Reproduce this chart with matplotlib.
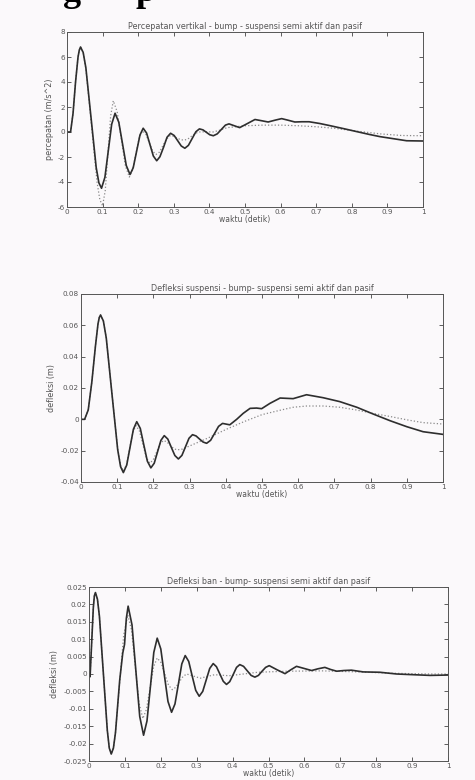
import matplotlib
matplotlib.use("Agg")
import matplotlib.pyplot as plt

# ---- data ----
# Percepatan vertikal (m/s^2): semi aktif (solid) dan pasif (dotted)
t_acc_semi = [0, 0.01, 0.017, 0.024, 0.031, 0.0345, 0.038, 0.0454, 0.053, 0.0675,
              0.082, 0.0896, 0.097,
              0.1065, 0.116, 0.1255, 0.135, 0.1455, 0.156, 0.1665, 0.177, 0.186,
              0.1955, 0.205, 0.214, 0.2235, 0.233, 0.2425, 0.252, 0.261, 0.2715,
              0.281, 0.291, 0.301, 0.311, 0.321, 0.331, 0.341, 0.3515, 0.362,
              0.372, 0.382, 0.3915, 0.401, 0.411, 0.422, 0.4335, 0.445, 0.455,
              0.47, 0.485, 0.505, 0.528, 0.547, 0.565, 0.585, 0.603, 0.62, 0.64,
              0.66, 0.68, 0.71, 0.74, 0.78, 0.814, 0.85, 0.879, 0.92, 0.954, 1.0]
acc_semi = [0, 0, 1.5, 4.0, 6.0, 6.55, 6.8, 6.37, 5.14, 1.15,
            -2.84, -4.07, -4.5,
            -3.62, -1.5, 0.62, 1.5, 0.78, -0.95, -2.68, -3.4, -2.86,
            -1.55, -0.24, 0.3, -0.08, -1.0, -1.92, -2.3, -1.98, -1.2,
            -0.42, -0.1, -0.28, -0.7, -1.12, -1.3, -1.07, -0.525, 0.02,
            0.25, 0.17, -0.025, -0.22, -0.3, -0.15, 0.2, 0.55, 0.65,
            0.5, 0.35, 0.65, 1.0, 0.9, 0.8, 0.95, 1.07, 0.95, 0.8,
            0.82, 0.82, 0.68, 0.5, 0.25, 0.03, -0.2, -0.37, -0.55, -0.7, -0.72]
t_acc_pas = [0, 0.01, 0.017, 0.024, 0.031, 0.0345, 0.038, 0.0458, 0.0535, 0.069,
             0.0845, 0.0923, 0.1,
             0.1075, 0.115, 0.1225, 0.13, 0.141, 0.1525, 0.164, 0.175, 0.184,
             0.1935, 0.203, 0.212, 0.2215, 0.231, 0.2405, 0.25, 0.26, 0.27,
             0.28, 0.29, 0.3, 0.31, 0.32, 0.33, 0.34, 0.35, 0.36, 0.37, 0.39,
             0.41, 0.43, 0.45, 0.5, 0.55, 0.6, 0.65, 0.7, 0.75, 0.82, 0.88, 0.94, 1.0]
acc_pas = [0, 0, 1.5, 4.0, 6.0, 6.55, 6.8, 6.32, 4.94, 0.45,
           -4.04, -5.42, -5.9,
           -4.67, -1.7, 1.27, 2.5, 1.61, -0.55, -2.71, -3.6, -3.06,
           -1.75, -0.44, 0.1, -0.18, -0.85, -1.52, -1.8, -1.6, -1.05,
           -0.55, -0.3, -0.35, -0.5, -0.62, -0.65, -0.55, -0.33, -0.12, 0.0, 0.02,
           0.0, 0.15, 0.35, 0.5, 0.55, 0.55, 0.5, 0.42, 0.3, 0.05, -0.15, -0.28, -0.3]

# Defleksi suspensi (m)
t_sus_semi = [0, 0.01, 0.02, 0.03, 0.04, 0.047, 0.0505, 0.054, 0.0618, 0.0698,
              0.0855, 0.1013, 0.1093,
              0.117, 0.1263, 0.1355, 0.1448, 0.154, 0.1638, 0.1735, 0.1833, 0.193,
              0.2023, 0.2115, 0.2208, 0.23, 0.2398, 0.2495, 0.2593, 0.269, 0.2788,
              0.2885, 0.2983, 0.308, 0.3178, 0.3275, 0.3373, 0.347, 0.358, 0.369,
              0.38, 0.391, 0.411, 0.43, 0.448, 0.467, 0.485, 0.499, 0.522, 0.55,
              0.586, 0.623, 0.669, 0.715, 0.762, 0.807, 0.854, 0.9, 0.945, 1.0]
sus_semi = [0, 0, 0.006, 0.024, 0.047, 0.061, 0.065, 0.0666, 0.0628, 0.0519,
            0.0163, -0.0193, -0.0302,
            -0.034, -0.0292, -0.0178, -0.0063, -0.0015, -0.0058, -0.0163, -0.0267, -0.031,
            -0.028, -0.0207, -0.0134, -0.0104, -0.0126, -0.0179, -0.0231, -0.0253, -0.023,
            -0.0176, -0.0121, -0.0098, -0.0106, -0.0126, -0.0145, -0.0153, -0.0134, -0.009,
            -0.0045, -0.0026, -0.0035, 0.0, 0.0038, 0.007, 0.0072, 0.0068, 0.0102, 0.0136,
            0.0132, 0.0157, 0.0138, 0.0113, 0.0077, 0.0034, -0.0009, -0.0047, -0.0079, -0.0096]
t_sus_pas = [0, 0.01, 0.02, 0.03, 0.04, 0.047, 0.0505, 0.054, 0.0618, 0.0698,
             0.0855, 0.1013, 0.1093,
             0.117, 0.1258, 0.1345, 0.1433, 0.152, 0.1615, 0.171, 0.1805, 0.19,
             0.1995, 0.209, 0.2185, 0.228, 0.237, 0.2465, 0.256, 0.265, 0.28,
             0.3, 0.35, 0.4, 0.45, 0.5, 0.55, 0.586, 0.623, 0.67, 0.715, 0.76,
             0.807, 0.854, 0.9, 0.945, 1.0]
sus_pas = [0, 0, 0.006, 0.024, 0.047, 0.061, 0.065, 0.0666, 0.0628, 0.0519,
           0.0163, -0.0185, -0.0295,
           -0.033, -0.0288, -0.0185, -0.0083, -0.004, -0.0075, -0.016, -0.0245, -0.028,
           -0.0259, -0.0208, -0.0156, -0.0135, -0.0144, -0.0165, -0.0186, -0.0195, -0.019,
           -0.017, -0.012, -0.0065, -0.0015, 0.003, 0.0058, 0.0077, 0.0085, 0.0085, 0.0077, 0.006,
           0.0038, 0.0018, -0.0003, -0.0021, -0.003]

# Defleksi ban (m)
t_ban_semi = [0, 0.003, 0.007, 0.012, 0.015, 0.018, 0.0235, 0.029, 0.04, 0.051,
              0.0565, 0.062, 0.068, 0.0738,
              0.0855, 0.094, 0.099, 0.104, 0.109, 0.1198, 0.1305, 0.1413, 0.152,
              0.1615, 0.171, 0.1805, 0.19, 0.2, 0.21, 0.22, 0.23, 0.2395, 0.249,
              0.2585, 0.268, 0.2778, 0.2875, 0.2973, 0.307, 0.3168, 0.3265, 0.3363,
              0.346, 0.355, 0.3645, 0.374, 0.383, 0.392, 0.4015, 0.411, 0.42, 0.4305,
              0.441, 0.4515, 0.462, 0.472, 0.482, 0.492, 0.502, 0.524, 0.546, 0.562,
              0.578, 0.599, 0.62, 0.638, 0.657, 0.673, 0.69, 0.71, 0.731, 0.764,
              0.81, 0.857, 0.903, 0.95, 1.0]
ban_semi = [0, -0.0008, 0.008, 0.019, 0.0225, 0.0234, 0.0215, 0.0166, 0.0002, -0.0162,
            -0.0213, -0.023, -0.0213, -0.0168,
            -0.0018, 0.006, 0.0085, 0.016, 0.0195, 0.0141, 0.001, -0.0122, -0.0176,
            -0.0135, -0.0037, 0.0062, 0.0103, 0.0072, -0.0004, -0.0079, -0.011, -0.0086, -0.0029,
            0.0029, 0.0053, 0.0036, -0.0006, -0.0047, -0.0064, -0.005, -0.0017, 0.0016,
            0.003, 0.0021, 0.0, -0.0021, -0.003, -0.0022, -0.0002, 0.0019, 0.0027, 0.0022,
            0.0009, -0.0004, -0.0009, -0.0004, 0.0008, 0.0019, 0.0024, 0.0012, 0.0001, 0.0012,
            0.0022, 0.0016, 0.001, 0.0015, 0.0019, 0.0013, 0.0008, 0.001, 0.0011, 0.0006,
            0.0005, 0.0, -0.0002, -0.0004, -0.0003]
t_ban_pas = [0, 0.003, 0.007, 0.012, 0.015, 0.018, 0.0235, 0.029, 0.04, 0.051,
             0.0565, 0.062, 0.068, 0.0735,
             0.085, 0.0965, 0.108, 0.1185, 0.129, 0.1395, 0.15, 0.16, 0.17, 0.18,
             0.19, 0.2005, 0.211, 0.2215, 0.232, 0.242, 0.252, 0.262, 0.272, 0.31,
             0.35, 0.39, 0.43, 0.47, 0.55, 0.65, 0.75, 0.85, 0.95, 1.0]
ban_pas = [0, -0.0008, 0.008, 0.019, 0.0225, 0.0234, 0.0215, 0.0166, 0.0002, -0.0162,
           -0.0213, -0.023, -0.0213, -0.0171,
           -0.003, 0.0111, 0.017, 0.0126, 0.0021, -0.0084, -0.0128, -0.0102, -0.0041, 0.0021,
           0.0046, 0.0033, 0.0, -0.0032, -0.0045, -0.0038, -0.0022, -0.0007, 0.0, -0.0012,
           -0.0002, -0.0005, 0.0, 0.0005, 0.0008, 0.0009, 0.0006, 0.0002, 0.0, 0.0]

x_ticks = [0, 0.1, 0.2, 0.3, 0.4, 0.5, 0.6, 0.7, 0.8, 0.9, 1]
x_ticklabels = ["0", "0.1", "0.2", "0.3", "0.4", "0.5", "0.6", "0.7", "0.8", "0.9", "1"]

bg = "#fbf9fb"
txt = "#555555"

fig = plt.figure(figsize=(4.75, 7.8), dpi=100, facecolor=bg)

# potongan judul halaman yang terpotong di atas
fig.text(72 / 475, 1 - 1 / 780, "g", family="Liberation Serif", weight="bold",
         fontsize=26, ha="center", va="baseline", color="black")
fig.text(146 / 475, 1 - 1 / 780, "p", family="Liberation Serif", weight="bold",
         fontsize=26, ha="center", va="baseline", color="black")

panels = [
    dict(rect=[67 / 475, 1 - 207 / 780, 356 / 475, 175 / 780],
         ts=t_acc_semi, s=acc_semi, tp=t_acc_pas, p=acc_pas,
         ylim=(-6, 8), yticks=[-6, -4, -2, 0, 2, 4, 6, 8],
         yticklabels=["-6", "-4", "-2", "0", "2", "4", "6", "8"],
         title="Percepatan vertikal - bump - suspensi semi aktif dan pasif",
         ylabel="percepatan (m/s^2)"),
    dict(rect=[81 / 475, 1 - 482 / 780, 362 / 475, 188 / 780],
         ts=t_sus_semi, s=sus_semi, tp=t_sus_pas, p=sus_pas,
         ylim=(-0.04, 0.08), yticks=[-0.04, -0.02, 0, 0.02, 0.04, 0.06, 0.08],
         yticklabels=["-0.04", "-0.02", "0", "0.02", "0.04", "0.06", "0.08"],
         title="Defleksi suspensi - bump- suspensi semi aktif dan pasif",
         ylabel="defleksi (m)"),
    dict(rect=[89 / 475, 1 - 761 / 780, 359 / 475, 174 / 780],
         ts=t_ban_semi, s=ban_semi, tp=t_ban_pas, p=ban_pas,
         ylim=(-0.025, 0.025),
         yticks=[-0.025, -0.02, -0.015, -0.01, -0.005, 0, 0.005, 0.01, 0.015, 0.02, 0.025],
         yticklabels=["-0.025", "-0.02", "-0.015", "-0.01", "-0.005", "0",
                      "0.005", "0.01", "0.015", "0.02", "0.025"],
         title="Defleksi ban - bump- suspensi semi aktif dan pasif",
         ylabel="defleksi (m)"),
]

for pnl in panels:
    ax = fig.add_axes(pnl["rect"], facecolor=bg)
    ax.plot(pnl["tp"], pnl["p"], linestyle=":", color="#8a8a8a", linewidth=0.9)
    ax.plot(pnl["ts"], pnl["s"], color="#2e2e2e", linewidth=1.2)
    ax.set_xlim(0, 1)
    ax.set_ylim(*pnl["ylim"])
    ax.set_xticks(x_ticks)
    ax.set_xticklabels(x_ticklabels)
    ax.set_yticks(pnl["yticks"])
    ax.set_yticklabels(pnl["yticklabels"])
    ax.tick_params(direction="in", top=True, right=True, length=3, width=0.6,
                   labelsize=5.2, labelcolor=txt, color="#444444", pad=1.5)
    for sp in ax.spines.values():
        sp.set_color("#555555")
        sp.set_linewidth(0.7)
    ax.set_title(pnl["title"], fontsize=5.8, color=txt, pad=2)
    ax.set_xlabel("waktu (detik)", fontsize=5.5, color=txt, labelpad=0)
    ax.set_ylabel(pnl["ylabel"], fontsize=5.8, color=txt, labelpad=3)

fig.savefig("out.png", dpi=100, facecolor=bg)
